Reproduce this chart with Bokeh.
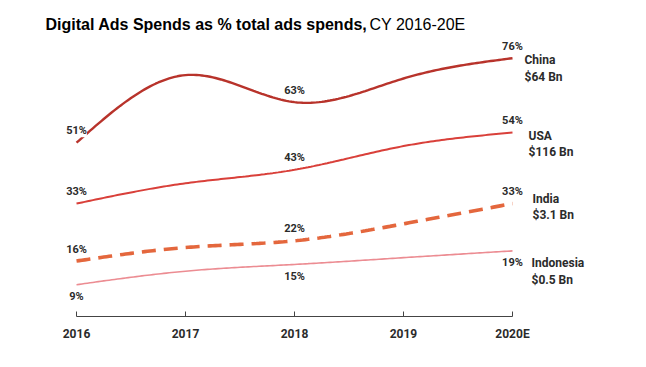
import numpy as np
from bokeh.plotting import figure
from bokeh.models import Range1d, FixedTicker, ColumnDataSource, LabelSet, Label
from bokeh.core.properties import value
from bokeh.embed import file_html
from bokeh.resources import INLINE

# ---------------- data ----------------
years = [2016, 2017, 2018, 2019, 2020]
tick_labels = ["2016", "2017", "2018", "2019", "2020E"]
china = [51, 71, 63, 70, 76]
usa = [33, 39, 43, 50, 54]
india = [16, 20, 22, 27, 33]
indonesia = [9, 13, 15, 17, 19]
series_names = ["China", "USA", "India", "Indonesia"]
spend_labels = ["$64 Bn", "$116 Bn", "$3.1 Bn", "$0.5 Bn"]
labeled_years = [2016, 2018, 2020]
title_bold = "Digital Ads Spends as % total ads spends,"
title_rest = "CY 2016-20E"

# ---------------- style ----------------
colors = ["#b8332b", "#d9403a", "#e4673d", "#ec8c92"]
widths = [2.4, 2.0, 3.6, 1.6]
dashes = ["solid", "solid", "14 8", "solid"]
pct_side = [1, 1, 1, -1]          # label above (+1) or below (-1) the line
name_dx = [12, 16, 20, 19]
name_dy = [5, 4, 12, -5]
TEXT = "#2b2b2b"
FONT = "Roboto"

M = 8                     # inner border so frame starts at page px 8
FW, FH = 630, 308         # frame size
BOTTOM = 43
W, H = FW + M, FH + M + BOTTOM
x0, x1 = 2015.376, 2021.156
y0, y1 = -0.4, 90.7


def px_x(px):
    return x0 + (px - M) / FW * (x1 - x0)


def px_y(py):
    return y1 - (py - M) / FH * (y1 - y0)


def smooth(xs, ys, per=40):
    x = np.asarray(xs, float)
    y = np.asarray(ys, float)
    n = len(x)
    h = np.diff(x)
    A = np.zeros((n, n))
    b = np.zeros(n)
    A[0, 0] = A[-1, -1] = 1
    for i in range(1, n - 1):
        A[i, i - 1] = h[i - 1]
        A[i, i] = 2 * (h[i - 1] + h[i])
        A[i, i + 1] = h[i]
        b[i] = 6 * ((y[i + 1] - y[i]) / h[i] - (y[i] - y[i - 1]) / h[i - 1])
    Mm = np.linalg.solve(A, b)
    xx = np.linspace(x[0], x[-1], (n - 1) * per + 1)
    k = np.clip(np.searchsorted(x, xx) - 1, 0, n - 2)
    ta, tb, hk = x[k], x[k + 1], h[k]
    yy = (Mm[k] * (tb - xx) ** 3 / (6 * hk) + Mm[k + 1] * (xx - ta) ** 3 / (6 * hk)
          + (y[k] / hk - Mm[k] * hk / 6) * (tb - xx)
          + (y[k + 1] / hk - Mm[k + 1] * hk / 6) * (xx - ta))
    return xx, yy


p = figure(width=W, height=H, output_backend="svg", toolbar_location=None,
           x_range=Range1d(x0, x1), y_range=Range1d(y0, y1),
           y_axis_location=None, min_border_left=M, min_border_right=0,
           min_border_top=M, min_border_bottom=BOTTOM)
p.grid.visible = False
p.outline_line_color = None
p.background_fill_color = "white"

all_series = [china, usa, india, indonesia]
for vals, c, w, d in zip(all_series, colors, widths, dashes):
    xx, yy = smooth(years, vals)
    p.line(xx, yy, line_color=c, line_width=w, line_dash=d, line_cap="butt")

# percentage labels
lx, ly, lt, loff = [], [], [], []
for vals, side in zip(all_series, pct_side):
    for yr, v in zip(years, vals):
        if yr in labeled_years:
            lx.append(yr)
            ly.append(v)
            lt.append(f"{v}%")
            loff.append(12 * side)
src = ColumnDataSource(dict(x=lx, y=ly, t=lt, off=loff))
p.add_layout(LabelSet(x="x", y="y", text="t", source=src, y_offset="off",
                      text_align="center", text_baseline="middle",
                      text_font=value(FONT), text_font_style="bold",
                      text_font_size="11px", text_color=TEXT,
                      background_fill_color="white"))

# series name labels
nsrc = ColumnDataSource(dict(
    x=[years[-1]] * 4, y=[s[-1] for s in all_series],
    t=[f"{n}\n{s}" for n, s in zip(series_names, spend_labels)],
    dx=name_dx, dy=name_dy))
p.add_layout(LabelSet(x="x", y="y", text="t", source=nsrc, x_offset="dx", y_offset="dy",
                      text_align="left", text_baseline="top",
                      text_font=value(FONT), text_font_style="bold",
                      text_font_size="12px", text_color=TEXT, text_line_height=1.2))

# title
p.add_layout(Label(x=px_x(45), y=px_y(23.5), text=title_bold, text_baseline="alphabetic",
                   text_font="Liberation Sans", text_font_style="bold",
                   text_font_size="16px", text_color="black"))
p.add_layout(Label(x=px_x(369), y=px_y(23.5), text=title_rest, text_baseline="alphabetic",
                   text_font="Liberation Sans", text_font_style="normal",
                   text_font_size="16px", text_color="black"))

ax = p.xaxis[0]
ax.ticker = FixedTicker(ticks=years)
ax.major_label_overrides = {yr: lab for yr, lab in zip(years, tick_labels)}
ax.bounds = (years[0], years[-1])
ax.axis_line_color = "#444444"
ax.axis_line_width = 1.2
ax.major_tick_line_color = "#444444"
ax.major_tick_in = 5
ax.major_tick_out = 0
ax.minor_tick_line_color = None
ax.major_label_standoff = 10
ax.major_label_text_font = FONT
ax.major_label_text_font_style = "bold"
ax.major_label_text_font_size = "12px"
ax.major_label_text_color = TEXT

open("out.html", "w").write(file_html(p, INLINE))
